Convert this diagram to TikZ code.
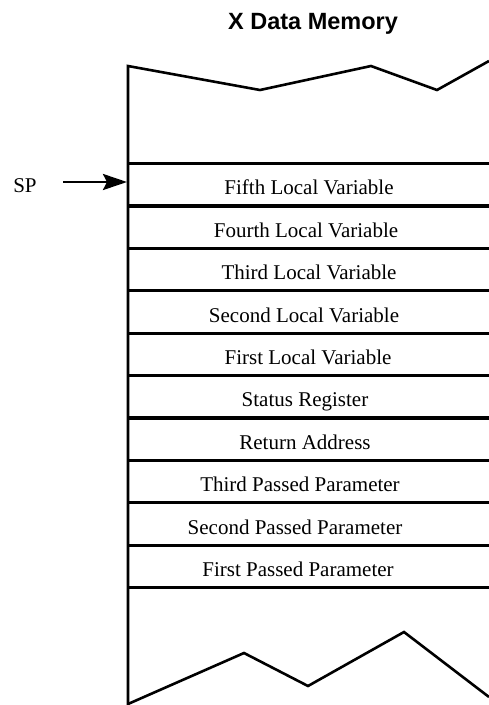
\documentclass[tikz,border=0pt]{standalone}
\usepackage{fontspec}
\setmainfont{Liberation Serif}
\newfontfamily\titlefont{Liberation Sans}
\usepackage{tikz}
\usetikzlibrary{arrows.meta, positioning, calc}

\tikzset{
    rowline/.style={line width=3.2pt},
    edgeline/.style={line width=2.6pt, line join=miter},
    cell/.style={anchor=base, inner sep=0pt, font=\fontsize{21}{25}\selectfont},
    ptr/.style={line width=2.8pt, -{Stealth[length=24pt, width=16pt, inset=4pt]}}
}

\begin{document}
\begin{tikzpicture}[x=1pt, y=-1pt]
    \useasboundingbox (0,0) rectangle (489,705);

    % Title
    \node[anchor=base, inner sep=0pt, font=\titlefont\bfseries\fontsize{23.5}{28}\selectfont] (title) at (313,29) {X Data Memory};

    % Memory edge with top and bottom breaks
    \draw[edgeline] (128,705) -- (128,66) -- (260,90) -- (371,66) -- (437,90) -- (489,61);
    \draw[edgeline] (128,704) -- (244,653) -- (308,686) -- (404,632) -- (489,697);

    % Stack slots
    \foreach \i in {0,...,10}
        \draw[rowline] (128,163.5+42.4*\i) -- (489,163.5+42.4*\i);
    \foreach \t/\x [count=\i] in {Fifth Local Variable/309, Fourth Local Variable/306,
        Third Local Variable/309, Second Local Variable/304, First Local Variable/308,
        Status Register/305, Return Address/305, Third Passed Parameter/300,
        Second Passed Parameter/295, First Passed Parameter/298}
        \node[cell] (slot\i) at (\x,152.5+42.4*\i) {\t};

    % Stack pointer
    \node[cell] (sp) at (25,192) {SP};
    \coordinate (sptip) at (127,182);
    \draw[ptr] ($(sptip)+(-64,0)$) -- (sptip);
\end{tikzpicture}
\end{document}
